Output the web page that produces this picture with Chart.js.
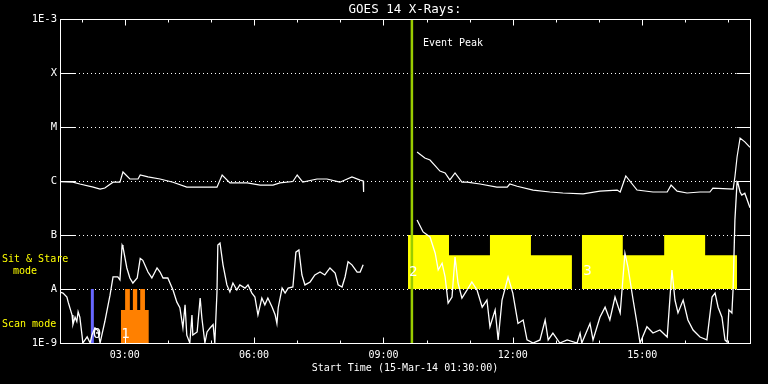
<!DOCTYPE html>
<html>
<head>
<meta charset="utf-8">
<title>GOES 14 X-Rays</title>
<script src="https://cdn.jsdelivr.net/npm/chart.js@4.4.1/dist/chart.umd.min.js"></script>
<style>
  html, body { margin: 0; padding: 0; background: #000; }
  #wrap { width: 768px; height: 384px; }
</style>
</head>
<body>
<div id="wrap"><canvas id="goesChart" width="768" height="384"></canvas></div>
<script>
// Hours after 00:00 on 15-Mar-14, flux in W/m^2 (log scale)
const upperTimes = [1.50, 1.80, 1.96, 2.27, 2.43, 2.54, 2.73, 2.89, 2.96, 3.12, 3.31, 3.36, 3.54, 3.82,
  4.12, 4.44, 4.82, 5.14, 5.26, 5.44, 5.84, 6.14, 6.44, 6.60, 6.90, 7.00, 7.13, 7.46, 7.69, 7.99,
  8.27, 8.46, 8.53, 8.54, 9.00,
  9.78, 9.96, 10.08, 10.31, 10.43, 10.54, 10.66, 10.82, 10.94, 11.24, 11.63, 11.87, 11.93, 12.10,
  12.47, 12.86, 13.16, 13.63, 14.02, 14.42, 14.49, 14.62, 14.88, 15.25, 15.58, 15.67, 15.81, 16.04,
  16.34, 16.57, 16.64, 17.11, 17.15, 17.20, 17.27, 17.38, 17.50];
const upperFlux = [9.7e-7, 9.5e-7, 8.8e-7, 7.7e-7, 7.1e-7, 7.4e-7, 9.5e-7, 9.5e-7, 1.47e-6, 1.09e-6, 1.09e-6, 1.29e-6, 1.19e-6, 1.09e-6,
  9.5e-7, 7.7e-7, 7.7e-7, 7.7e-7, 1.29e-6, 9.2e-7, 9.2e-7, 8.4e-7, 8.4e-7, 9.2e-7, 9.8e-7, 1.29e-6, 9.5e-7, 1.09e-6, 1.09e-6, 9.5e-7,
  1.19e-6, 1.04e-6, 1.0e-6, 6.25e-7, null,
  3.44e-6, 2.67e-6, 2.45e-6, 1.53e-6, 1.41e-6, 1.05e-6, 1.41e-6, 9.5e-7, 9.5e-7, 8.8e-7, 7.7e-7, 7.7e-7, 8.8e-7, 8.0e-7,
  6.8e-7, 6.25e-7, 6.0e-7, 5.8e-7, 6.5e-7, 6.8e-7, 6.25e-7, 1.24e-6, 6.8e-7, 6.25e-7, 6.25e-7, 8.4e-7, 6.5e-7, 6.0e-7,
  6.25e-7, 6.25e-7, 7.4e-7, 7.1e-7, 1.19e-6, 2.78e-6, 6.25e-6, 5.3e-6, 4.2e-6];

const lowerTimes = [1.50, 1.57, 1.66, 1.69, 1.78, 1.80, 1.85, 1.89, 1.92, 1.96, 2.01, 2.03, 2.13, 2.20, 2.24,
  2.31, 2.38, 2.43, 2.47, 2.54, 2.66, 2.73, 2.84, 2.89, 2.94, 2.96, 3.05, 3.12, 3.19, 3.29, 3.36, 3.42,
  3.54, 3.63, 3.75, 3.82, 3.89, 4.00, 4.12, 4.21, 4.28, 4.35, 4.40, 4.44, 4.51, 4.56, 4.58, 4.68, 4.75,
  4.79, 4.86, 4.91, 4.98, 5.05, 5.09, 5.14, 5.16, 5.21, 5.28, 5.37, 5.44, 5.51, 5.60, 5.67, 5.79, 5.86,
  5.95, 6.02, 6.09, 6.18, 6.25, 6.32, 6.42, 6.49, 6.53, 6.56, 6.65, 6.72, 6.79, 6.90, 6.97, 7.04, 7.11,
  7.18, 7.30, 7.41, 7.53, 7.64, 7.76, 7.88, 7.95, 8.04, 8.11, 8.18, 8.27, 8.39, 8.46, 8.53, 9.00,
  9.78, 9.92, 10.08, 10.20, 10.27, 10.36, 10.43, 10.50, 10.59, 10.66, 10.73, 10.82, 10.94, 11.05, 11.17,
  11.29, 11.40, 11.47, 11.59, 11.66, 11.75, 11.89, 12.00, 12.12, 12.24, 12.33, 12.47, 12.63, 12.75,
  12.82, 12.93, 13.09, 13.26, 13.49, 13.56, 13.60, 13.79, 13.86, 14.02, 14.14, 14.25, 14.37, 14.49,
  14.60, 14.67, 14.79, 14.88, 14.95, 15.11, 15.25, 15.41, 15.58, 15.69, 15.76, 15.83, 15.95, 16.06,
  16.18, 16.34, 16.50, 16.62, 16.69, 16.76, 16.85, 16.92, 16.97, 17.01, 17.08, 17.11, 17.15, 17.20,
  17.22, 17.27, 17.31, 17.38, 17.50];
const lowerFlux = [8.8e-9, 8.4e-9, 7.1e-9, 5.7e-9, 3.3e-9, 2.2e-9, 3.0e-9, 2.5e-9, 3.8e-9, 3.0e-9, 1.4e-9, 1.0e-9, 1.3e-9, 1.0e-9, 1.4e-9,
  1.9e-9, 1.7e-9, 1.0e-9, 1.4e-9, 2.5e-9, 7.7e-9, 1.67e-8, 1.67e-8, 1.47e-8, 6.5e-8, 6.0e-8, 2.45e-8, 1.6e-8, 1.29e-8, 1.6e-8, 3.7e-8, 3.4e-8,
  2.06e-8, 1.6e-8, 2.45e-8, 2.06e-8, 1.6e-8, 1.6e-8, 9.6e-9, 5.7e-9, 4.5e-9, 1.9e-9, 5.1e-9, 1.4e-9, 1.0e-9, 3.3e-9, 1.4e-9, 1.6e-9, 6.8e-9,
  2.9e-9, 1.0e-9, 1.6e-9, 1.9e-9, 2.2e-9, 1.0e-9, 8.8e-9, 6.5e-8, 7.1e-8, 2.8e-8, 1.19e-8, 8.8e-9, 1.29e-8, 9.6e-9, 1.19e-8, 1.04e-8, 1.19e-8,
  8.4e-9, 7.1e-9, 3.3e-9, 6.8e-9, 5.1e-9, 6.8e-9, 4.6e-9, 3.3e-9, 2.3e-9, 4.5e-9, 1.04e-8, 8.4e-9, 1.04e-8, 1.09e-8, 4.8e-8, 5.3e-8, 1.82e-8,
  1.19e-8, 1.35e-8, 1.82e-8, 2.06e-8, 1.82e-8, 2.45e-8, 1.98e-8, 1.19e-8, 1.09e-8, 1.67e-8, 3.2e-8, 2.8e-8, 2.06e-8, 2.06e-8, 2.8e-8, null,
  1.9e-7, 1.14e-7, 9.2e-8, 4.6e-8, 2.25e-8, 3.0e-8, 1.67e-8, 5.5e-9, 7.1e-9, 3.9e-8, 1.29e-8, 6.8e-9, 9.6e-9, 1.35e-8, 9.6e-9,
  4.6e-9, 6.25e-9, 2.0e-9, 4.1e-9, 1.14e-9, 6.25e-9, 1.67e-8, 8.4e-9, 2.3e-9, 2.67e-9, 1.14e-9, 1.0e-9, 1.14e-9, 2.67e-9,
  1.14e-9, 1.53e-9, 1.0e-9, 1.14e-9, 1.0e-9, 1.53e-9, 1.0e-9, 2.3e-9, 1.14e-9, 3.0e-9, 4.6e-9, 2.67e-9, 7.1e-9, 3.6e-9,
  4.6e-8, 2.55e-8, 6.25e-9, 2.3e-9, 1.0e-9, 2.0e-9, 1.53e-9, 1.74e-9, 1.29e-9, 2.25e-8, 6.25e-9, 3.6e-9, 6.25e-9, 2.67e-9,
  1.74e-9, 1.29e-9, 1.14e-9, 7.1e-9, 8.4e-9, 4.6e-9, 3.0e-9, 1.14e-9, 1.04e-9, 4.1e-9, 3.6e-9, 1.09e-8, 1.9e-7, 9.6e-7,
  9.1e-7, 6.25e-7, 5.5e-7, 5.95e-7, 3.2e-7];

// Sit & Stare mode blocks (step levels between A and B)
const stareTimes1 = [9.57, 10.52, 11.47, 12.42, 13.37];
const stareLevels1 = [1e-7, 4.2e-8, 1e-7, 4.2e-8, 4.2e-8];
const stareTimes2 = [13.60, 14.55, 15.51, 16.46, 17.20];
const stareLevels2 = [1e-7, 4.2e-8, 1e-7, 4.2e-8, 4.2e-8];
// Scan mode blocks (below A)
const scanTimes = [2.91, 3.01, 3.12, 3.19, 3.29, 3.36, 3.47, 3.56];
const scanLevels = [4.1e-9, 1e-8, 4.1e-9, 1e-8, 4.1e-9, 1e-8, 4.1e-9, 4.1e-9];
const scanMarkTime = 2.25;
const eventPeakTime = 9.66;

const modeLabels = ["0", "1", "2", "3"];
const modeLabelTimes = [2.36, 3.02, 9.69, 13.73];
const modeLabelLevels = [1.45e-9, 1.45e-9, 2.06e-8, 2.15e-8];

const xTickValues = [3, 6, 9, 12, 15];
const xTickLabels = ["03:00", "06:00", "09:00", "12:00", "15:00"];
const yTickValues = [1e-9, 1e-8, 1e-7, 1e-6, 1e-5, 1e-4, 1e-3];
const yTickLabels = ["1E-9", "A", "B", "C", "M", "X", "1E-3"];

const FONT = "'DejaVu Sans Mono', monospace";

function zip(xs, ys) {
  return xs.map((x, i) => ({ x: x, y: ys[i] }));
}

// Background, dotted level lines, frame, inner ticks and labels
const goesDecor = {
  id: "goesDecor",
  beforeDraw(chart) {
    const ctx = chart.ctx;
    ctx.save();
    ctx.fillStyle = "#000";
    ctx.fillRect(0, 0, chart.width, chart.height);
    ctx.restore();
  },
  beforeDatasetsDraw(chart) {
    const { ctx, chartArea: a, scales } = chart;
    ctx.save();
    ctx.strokeStyle = "#fff";
    ctx.lineWidth = 1;
    ctx.setLineDash([1, 3]);
    yTickValues.slice(1, -1).forEach((v) => {
      const y = Math.round(scales.y.getPixelForValue(v)) + 0.5;
      ctx.beginPath();
      ctx.moveTo(a.left + 15, y);
      ctx.lineTo(a.right - 14, y);
      ctx.stroke();
    });
    ctx.restore();
  },
  afterDraw(chart) {
    const { ctx, chartArea: a, scales } = chart;
    ctx.save();
    ctx.strokeStyle = "#fff";
    ctx.lineWidth = 1;
    const l = Math.round(a.left) + 0.5, r = Math.round(a.right) + 0.5;
    const t = Math.round(a.top) + 0.5, b = Math.round(a.bottom) + 0.5;
    ctx.strokeRect(l, t, r - l, b - t);

    // level ticks on left and right
    yTickValues.slice(1, -1).forEach((v) => {
      const y = Math.round(scales.y.getPixelForValue(v)) + 0.5;
      ctx.beginPath();
      ctx.moveTo(l, y); ctx.lineTo(l + 15, y);
      ctx.moveTo(r - 14, y); ctx.lineTo(r, y);
      ctx.stroke();
    });

    // hourly ticks on top and bottom
    for (let h = 2; h <= 17; h++) {
      const x = Math.round(scales.x.getPixelForValue(h)) + 0.5;
      const len = h % 3 === 0 ? 6 : 3;
      ctx.beginPath();
      ctx.moveTo(x, t); ctx.lineTo(x, t + len);
      ctx.moveTo(x, b); ctx.lineTo(x, b - len);
      ctx.stroke();
    }

    ctx.fillStyle = "#fff";
    ctx.textBaseline = "middle";

    // title, centred over the plot area
    ctx.font = "12.5px " + FONT;
    ctx.textAlign = "center";
    ctx.fillText("GOES 14 X-Rays:", (a.left + a.right) / 2, 10);

    // block numbers
    ctx.font = "14px " + FONT;
    modeLabels.forEach((s, i) => {
      ctx.fillText(s, scales.x.getPixelForValue(modeLabelTimes[i]), scales.y.getPixelForValue(modeLabelLevels[i]));
    });

    // event peak caption
    ctx.font = "10px " + FONT;
    ctx.textAlign = "left";
    ctx.fillText("Event Peak", scales.x.getPixelForValue(eventPeakTime) + 11, a.top + 24);

    // mode captions left of the axis
    ctx.fillStyle = "#ffff00";
    const yStare = scales.y.getPixelForValue(3.6e-8);
    ctx.fillText("Sit & Stare", 2, yStare);
    ctx.fillText("mode", 13, yStare + 12);
    ctx.fillText("Scan mode", 2, scales.y.getPixelForValue(2.25e-9));
    ctx.restore();
  },
};

const goesChart = new Chart(document.getElementById("goesChart"), {
  type: "line",
  data: {
    datasets: [
      {
        label: "1.0-8.0 A",
        data: zip(upperTimes, upperFlux),
        borderColor: "#fff",
        borderWidth: 1.2,
        pointRadius: 0,
        spanGaps: false,
      },
      {
        label: "0.5-4.0 A",
        data: zip(lowerTimes, lowerFlux),
        borderColor: "#fff",
        borderWidth: 1.3,
        pointRadius: 0,
        spanGaps: false,
      },
      {
        label: "Event Peak",
        data: [{ x: eventPeakTime, y: 1e-9 }, { x: eventPeakTime, y: 1e-3 }],
        borderColor: "#99cc00",
        borderWidth: 2.5,
        pointRadius: 0,
      },
      {
        label: "Scan mark",
        data: [{ x: scanMarkTime, y: 1e-9 }, { x: scanMarkTime, y: 1e-8 }],
        borderColor: "#6666ff",
        borderWidth: 3,
        pointRadius: 0,
      },
      {
        label: "Scan mode",
        data: zip(scanTimes, scanLevels),
        stepped: true,
        borderWidth: 0,
        pointRadius: 0,
        backgroundColor: "#ff8000",
        fill: { value: 1e-9 },
      },
      {
        label: "Sit & Stare 1",
        data: zip(stareTimes1, stareLevels1),
        stepped: true,
        borderWidth: 0,
        pointRadius: 0,
        backgroundColor: "#ffff00",
        fill: { value: 1e-8 },
      },
      {
        label: "Sit & Stare 2",
        data: zip(stareTimes2, stareLevels2),
        stepped: true,
        borderWidth: 0,
        pointRadius: 0,
        backgroundColor: "#ffff00",
        fill: { value: 1e-8 },
      },
    ],
  },
  options: {
    responsive: false,
    animation: false,
    events: [],
    layout: { padding: { left: 0, right: 18, top: 19, bottom: 0 } },
    elements: { line: { tension: 0 } },
    plugins: {
      legend: { display: false },
      tooltip: { enabled: false },
      title: { display: false },
    },
    scales: {
      x: {
        type: "linear",
        min: 1.5,
        max: 17.5,
        grid: { display: false, drawTicks: false },
        border: { display: false },
        afterBuildTicks: (scale) => {
          scale.ticks = xTickValues.map((v) => ({ value: v }));
        },
        afterFit: (scale) => {
          scale.height = 41;
        },
        ticks: {
          color: "#fff",
          padding: 6,
          maxRotation: 0,
          font: { family: FONT, size: 10 },
          callback: (v, i) => xTickLabels[i],
        },
        title: {
          display: true,
          text: "Start Time (15-Mar-14 01:30:00)",
          color: "#fff",
          font: { family: FONT, size: 10 },
          padding: { top: 0, bottom: 10 },
        },
      },
      y: {
        type: "logarithmic",
        min: 1e-9,
        max: 1e-3,
        grid: { display: false, drawTicks: false },
        border: { display: false },
        afterBuildTicks: (scale) => {
          scale.ticks = yTickValues.map((v) => ({ value: v }));
        },
        afterFit: (scale) => {
          scale.width = 60;
        },
        ticks: {
          color: "#fff",
          padding: 3,
          font: { family: FONT, size: 10.5 },
          callback: (v, i) => yTickLabels[i],
        },
      },
    },
  },
  plugins: [goesDecor],
});
</script>
</body>
</html>
